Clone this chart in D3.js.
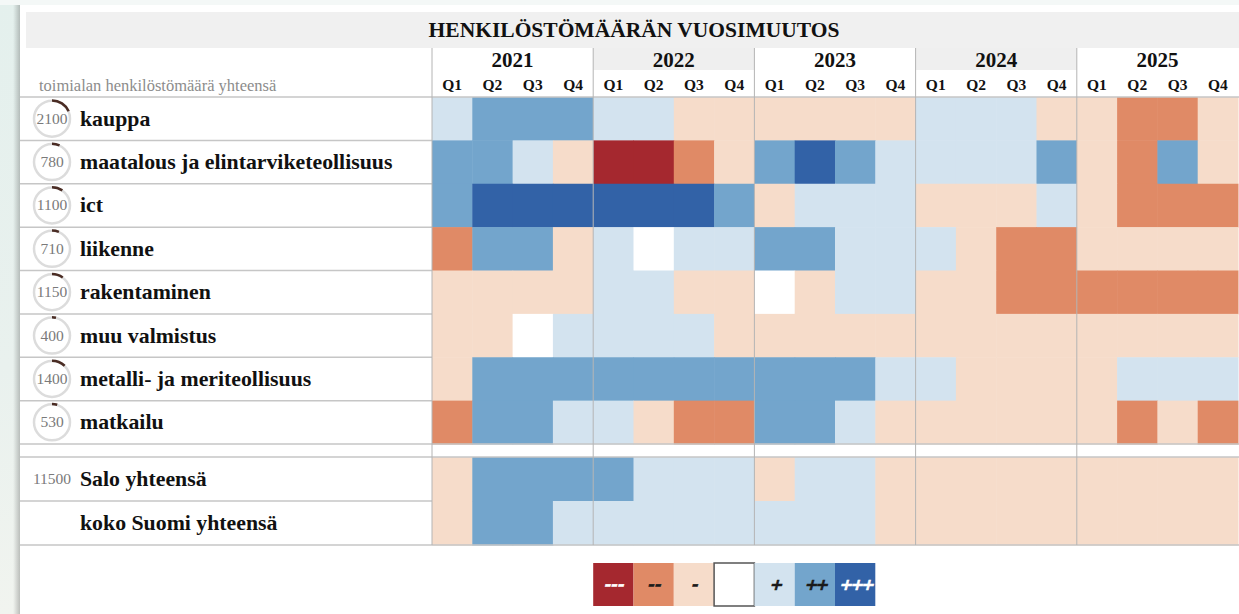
<!DOCTYPE html>
<html>
<head>
<meta charset="utf-8">
<title>Henkilöstömäärän vuosimuutos</title>
<script src="https://d3js.org/d3.v7.min.js"></script>
<style>
  html, body { margin: 0; padding: 0; background: #eef4f2; }
  svg { display: block; font-family: "Liberation Serif", "DejaVu Serif", serif; }
</style>
</head>
<body>
<svg id="chart" width="1239" height="614"></svg>
<script>
// ---- data ----
var years = ["2021", "2022", "2023", "2024", "2025"];
var quarters = ["Q1", "Q2", "Q3", "Q4"];
var sectors = ["kauppa", "maatalous ja elintarviketeollisuus", "ict", "liikenne",
               "rakentaminen", "muu valmistus", "metalli- ja meriteollisuus", "matkailu"];
var sectorStaff = [2100, 780, 1100, 710, 1150, 400, 1400, 530];
var totalRows = ["Salo yhteensä", "koko Suomi yhteensä"];
var totalStaff = [11500, null];

// change class per quarter, -3 (---) ... +3 (+++)
var kauppa      = [ 1, 2, 2, 2,   1, 1,-1,-1,  -1,-1,-1,-1,   1, 1, 1,-1,  -1,-2,-2,-1];
var maatalous   = [ 2, 2, 1,-1,  -3,-3,-2,-1,   2, 3, 2, 1,   1, 1, 1, 2,  -1,-2, 2,-1];
var ict         = [ 2, 3, 3, 3,   3, 3, 3, 2,  -1, 1, 1, 1,  -1,-1,-1, 1,  -1,-2,-2,-2];
var liikenne    = [-2, 2, 2,-1,   1, 0, 1, 1,   2, 2, 1, 1,   1,-1,-2,-2,  -1,-1,-1,-1];
var rakentaminen= [-1,-1,-1,-1,   1, 1,-1,-1,   0,-1, 1, 1,  -1,-1,-2,-2,  -2,-2,-2,-2];
var muuValmistus= [-1,-1, 0, 1,   1, 1, 1,-1,  -1,-1,-1,-1,  -1,-1,-1,-1,  -1,-1,-1,-1];
var metalli     = [-1, 2, 2, 2,   2, 2, 2, 2,   2, 2, 2, 1,   1,-1,-1,-1,  -1, 1, 1, 1];
var matkailu    = [-2, 2, 2, 1,   1,-1,-2,-2,   2, 2, 1,-1,  -1,-1,-1,-1,  -1,-2,-1,-2];
var salo        = [-1, 2, 2, 2,   2, 1, 1, 1,  -1, 1, 1,-1,  -1,-1,-1,-1,  -1,-1,-1,-1];
var suomi       = [-1, 2, 2, 1,   1, 1, 1, 1,   1, 1, 1,-1,  -1,-1,-1,-1,  -1,-1,-1,-1];

var sectorLevels = [kauppa, maatalous, ict, liikenne, rakentaminen, muuValmistus, metalli, matkailu];
var totalLevels = [salo, suomi];

var legendLevels = [-3, -2, -1, 0, 1, 2, 3];
var legendSymbols = ["---", "--", "-", "", "+", "++", "+++"];
var levelColors = ["#a5282f", "#e08a66", "#f6dcca", "#ffffff", "#d3e3ef", "#73a5cc", "#3262a7"];

// ---- setup ----
var width = 1239, height = 614;
var svg = d3.select("#chart");
var columns = [];
years.forEach(function(y) { quarters.forEach(function(q) { columns.push(y + " " + q); }); });

var x = d3.scaleBand().domain(columns).range([432, 1238]);
var xYear = d3.scaleBand().domain(years).range([432, 1238]);
var ySector = d3.scaleBand().domain(sectors).range([97, 444]);
var yTotal = d3.scaleBand().domain(totalRows).range([457, 545]);
var color = d3.scaleOrdinal().domain(legendLevels).range(levelColors);
var total = totalStaff[0];

// background and panel
var defs = svg.append("defs");
var bg = defs.append("linearGradient").attr("id", "bg").attr("x1", 0).attr("y1", 0).attr("x2", 0).attr("y2", 1);
bg.append("stop").attr("offset", "0%").attr("stop-color", "#e4f0ed");
bg.append("stop").attr("offset", "60%").attr("stop-color", "#e9f1ee");
bg.append("stop").attr("offset", "100%").attr("stop-color", "#f1f4ef");
var sh = defs.append("linearGradient").attr("id", "shadow");
sh.append("stop").attr("offset", "0%").attr("stop-color", "#000").attr("stop-opacity", 0);
sh.append("stop").attr("offset", "100%").attr("stop-color", "#000").attr("stop-opacity", 0.25);

svg.append("rect").attr("width", width).attr("height", height).attr("fill", "url(#bg)");
svg.append("rect").attr("x", 0).attr("y", 0).attr("width", width).attr("height", 5).attr("fill", "#f4f8f7");
svg.append("rect").attr("x", 13).attr("y", 5).attr("width", 8).attr("height", height).attr("fill", "url(#shadow)");
svg.append("rect").attr("x", 20).attr("y", 5).attr("width", width - 20).attr("height", height - 5).attr("fill", "#fff");

// title band
svg.append("rect").attr("x", 26).attr("y", 12).attr("width", width - 26).attr("height", 36).attr("fill", "#f0f0f0");
svg.append("text").attr("x", 634).attr("y", 37).attr("text-anchor", "middle")
  .attr("font-size", 21.5).attr("font-weight", "bold").attr("fill", "#111")
  .text("HENKILÖSTÖMÄÄRÄN VUOSIMUUTOS");

// year header
svg.selectAll(".yearbg").data(years).enter().append("rect")
  .attr("x", function(d) { return xYear(d); }).attr("y", 48)
  .attr("width", xYear.bandwidth()).attr("height", 22)
  .attr("fill", function(d, i) { return i % 2 ? "#efefef" : "#fff"; });
svg.selectAll(".year").data(years).enter().append("text")
  .attr("x", function(d) { return xYear(d) + xYear.bandwidth() / 2; }).attr("y", 67)
  .attr("text-anchor", "middle").attr("font-size", 21).attr("font-weight", "bold").attr("fill", "#111")
  .text(function(d) { return d; });
svg.selectAll(".quarter").data(columns).enter().append("text")
  .attr("x", function(d) { return x(d) + x.bandwidth() / 2; }).attr("y", 90)
  .attr("text-anchor", "middle").attr("font-size", 15.5).attr("font-weight", "bold").attr("fill", "#111")
  .text(function(d) { return d.split(" ")[1]; });
svg.append("text").attr("x", 39).attr("y", 91).attr("font-size", 16.5).attr("fill", "#8c8c8c")
  .text("toimialan henkilöstömäärä yhteensä");

// cells
function drawCells(names, levels, yScale) {
  names.forEach(function(name, r) {
    svg.append("g").selectAll("rect").data(levels[r]).enter().append("rect")
      .attr("x", function(d, i) { return x(columns[i]); })
      .attr("y", yScale(name))
      .attr("width", x.bandwidth() + 0.5)
      .attr("height", yScale.bandwidth() + 0.5)
      .attr("fill", function(d) { return color(d); });
  });
}
drawCells(sectors, sectorLevels, ySector);
drawCells(totalRows, totalLevels, yTotal);

// row lines
var lineColor = "#c6c6c6";
svg.append("line").attr("x1", 20).attr("x2", width).attr("y1", 97).attr("y2", 97)
  .attr("stroke", lineColor).attr("stroke-width", 1.5);
sectors.forEach(function(s, i) {
  var yy = ySector(s) + ySector.bandwidth();
  svg.append("line").attr("x1", 20).attr("x2", i === sectors.length - 1 ? width : 432)
    .attr("y1", yy).attr("y2", yy).attr("stroke", lineColor).attr("stroke-width", 1.5);
});
svg.append("line").attr("x1", 20).attr("x2", width).attr("y1", 457).attr("y2", 457)
  .attr("stroke", lineColor).attr("stroke-width", 1.5);
totalRows.forEach(function(s, i) {
  var yy = yTotal(s) + yTotal.bandwidth();
  svg.append("line").attr("x1", 20).attr("x2", i === totalRows.length - 1 ? width : 432)
    .attr("y1", yy).attr("y2", yy).attr("stroke", lineColor).attr("stroke-width", 1.5);
});

// year separators
svg.selectAll(".vsep").data(years).enter().append("line")
  .attr("x1", function(d) { return xYear(d); }).attr("x2", function(d) { return xYear(d); })
  .attr("y1", 48).attr("y2", 545).attr("stroke", "#b4b4b4").attr("stroke-width", 1);

// sector labels with share circles
var arc = d3.arc().innerRadius(17).outerRadius(19.5);
sectors.forEach(function(s, i) {
  var cy = ySector(s) + ySector.bandwidth() / 2;
  var g = svg.append("g").attr("transform", "translate(52," + cy + ")");
  g.append("circle").attr("r", 18).attr("fill", "#fff").attr("stroke", "#dcdcdc").attr("stroke-width", 2.5);
  g.append("path").attr("d", arc({ startAngle: 0, endAngle: Math.max(0.1, sectorStaff[i] / total * 2 * Math.PI) }))
    .attr("fill", "#4a2c24");
  g.append("text").attr("y", 5).attr("text-anchor", "middle").attr("font-size", 15.5).attr("fill", "#7a7a7a")
    .text(sectorStaff[i]);
  svg.append("text").attr("x", 80).attr("y", cy + 7).attr("font-size", 21.8).attr("font-weight", "bold")
    .attr("fill", "#111").text(s);
});
totalRows.forEach(function(s, i) {
  var cy = yTotal(s) + yTotal.bandwidth() / 2;
  if (totalStaff[i] !== null) {
    svg.append("text").attr("x", 52).attr("y", cy + 5).attr("text-anchor", "middle")
      .attr("font-size", 15.5).attr("fill", "#7a7a7a").text(totalStaff[i]);
  }
  svg.append("text").attr("x", 80).attr("y", cy + 7).attr("font-size", 21.8).attr("font-weight", "bold")
    .attr("fill", "#111").text(s);
});

// legend
var xLegend = d3.scaleBand().domain(legendLevels).range([x(columns[4]), x(columns[11])]);
var lg = svg.append("g").attr("transform", "translate(0,563)");
lg.selectAll("rect").data(legendLevels).enter().append("rect")
  .attr("x", function(d) { return xLegend(d); }).attr("y", 0)
  .attr("width", xLegend.bandwidth()).attr("height", 43)
  .attr("fill", function(d) { return color(d); })
  .attr("stroke", function(d) { return d === 0 ? "#555" : "none"; })
  .attr("stroke-width", 1.5);
lg.selectAll("text").data(legendLevels).enter().append("text")
  .attr("transform", function(d) {
    return "translate(" + (xLegend(d) + xLegend.bandwidth() / 2) + ",27) skewX(-14)";
  })
  .attr("text-anchor", "middle").attr("font-family", "DejaVu Sans, sans-serif")
  .attr("font-weight", "bold").attr("font-size", 16)
  .attr("letter-spacing", function(d) { return d > 0 ? -2.5 : 0; })
  .attr("stroke-width", 0.6)
  .attr("fill", function(d) { return Math.abs(d) === 3 ? "#fff" : "#1a1a1a"; })
  .attr("stroke", function(d) { return Math.abs(d) === 3 ? "#fff" : "#1a1a1a"; })
  .text(function(d, i) { return legendSymbols[i]; });
</script>
</body>
</html>
